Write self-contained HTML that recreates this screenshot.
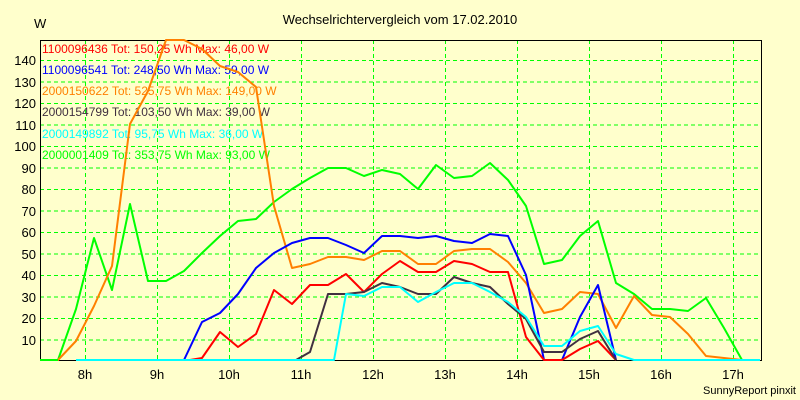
<!DOCTYPE html><html><head><meta charset="utf-8"><style>body{margin:0;background:#ffffcc}svg{display:block}</style></head><body>
<svg width="800" height="400" xmlns="http://www.w3.org/2000/svg" font-family="Liberation Sans, sans-serif">
<rect width="800" height="400" fill="#ffffcc"/>
<text x="400" y="24" font-size="13" text-anchor="middle">Wechselrichtervergleich vom 17.02.2010</text>
<text x="34" y="28" font-size="13">W</text>
<g stroke="#00ff00" stroke-dasharray="4,3" stroke-width="1">
<line x1="40" x2="762" y1="60.5" y2="60.5"/><line x1="40" x2="762" y1="82" y2="82"/><line x1="40" x2="762" y1="103.5" y2="103.5"/><line x1="40" x2="762" y1="125" y2="125"/><line x1="40" x2="762" y1="146.5" y2="146.5"/><line x1="40" x2="762" y1="168" y2="168"/><line x1="40" x2="762" y1="189.5" y2="189.5"/><line x1="40" x2="762" y1="211" y2="211"/><line x1="40" x2="762" y1="232.5" y2="232.5"/><line x1="40" x2="762" y1="254" y2="254"/><line x1="40" x2="762" y1="275.5" y2="275.5"/><line x1="40" x2="762" y1="297" y2="297"/><line x1="40" x2="762" y1="318.5" y2="318.5"/><line x1="40" x2="762" y1="340" y2="340"/>
<line y1="40" y2="360" x1="85.5" x2="85.5"/><line y1="40" y2="360" x1="157.5" x2="157.5"/><line y1="40" y2="360" x1="229.5" x2="229.5"/><line y1="40" y2="360" x1="301.5" x2="301.5"/><line y1="40" y2="360" x1="373.5" x2="373.5"/><line y1="40" y2="360" x1="445.5" x2="445.5"/><line y1="40" y2="360" x1="517.5" x2="517.5"/><line y1="40" y2="360" x1="589.5" x2="589.5"/><line y1="40" y2="360" x1="661.5" x2="661.5"/><line y1="40" y2="360" x1="733.5" x2="733.5"/>
</g>
<rect x="40.5" y="40.5" width="721" height="320" fill="none" stroke="#000" stroke-width="1"/>
<g font-size="13" text-anchor="end">
<text x="36" y="65">140</text><text x="36" y="87">130</text><text x="36" y="108">120</text><text x="36" y="130">110</text><text x="36" y="151">100</text><text x="36" y="173">90</text><text x="36" y="194">80</text><text x="36" y="216">70</text><text x="36" y="237">60</text><text x="36" y="259">50</text><text x="36" y="280">40</text><text x="36" y="302">30</text><text x="36" y="323">20</text><text x="36" y="345">10</text>
</g>
<g font-size="13" text-anchor="middle">
<text x="85" y="379">8h</text><text x="157" y="379">9h</text><text x="229" y="379">10h</text><text x="301" y="379">11h</text><text x="373" y="379">12h</text><text x="445" y="379">13h</text><text x="517" y="379">14h</text><text x="589" y="379">15h</text><text x="661" y="379">16h</text><text x="733" y="379">17h</text>
</g>
<text x="796" y="394" font-size="11" text-anchor="end">SunnyReport pinxit</text>
<g font-size="12">
<text x="42" y="53" fill="#ff0000">1100096436 Tot: 150,25 Wh Max: 46,00 W</text>
<text x="42" y="74" fill="#0000ff">1100096541 Tot: 248,50 Wh Max: 59,00 W</text>
<text x="42" y="95" fill="#ff8000">2000150622 Tot: 525,75 Wh Max: 149,00 W</text>
<text x="42" y="116" fill="#403040">2000154799 Tot: 103,50 Wh Max: 39,00 W</text>
<text x="42" y="138" fill="#00ffff">2000149892 Tot: 95,75 Wh Max: 36,00 W</text>
<text x="42" y="159" fill="#00ff00">2000001409 Tot: 353,75 Wh Max: 93,00 W</text>
</g>
<g fill="none" stroke-width="2" stroke-linejoin="round">
<polyline stroke="#00ff00" points="40,360 58,360 76,309 94,238 112,290 130,204 148,281 166,281 184,271 202,253 220,236 238,221 256,219 274,202 292,189 310,178 328,168 346,168 364,176 382,170 400,174 418,189 436,165 454,178 472,176 490,163 508,180 526,206 544,264 562,260 580,236 598,221 616,283 634,294 652,309 670,309 688,311 706,298 724,328 742,360 760,360"/>
<polyline stroke="#ff8000" points="40,360 58,360 76,341 94,306 112,266 130,124 148,91 166,40 184,40 202,49 220,66 238,72 256,87 274,206 292,268 310,264 328,257 346,257 364,260 382,251 400,251 418,264 436,264 454,251 472,249 490,249 508,262 526,283 544,313 562,309 580,292 598,294 616,328 634,296 652,315 670,317 688,334 706,356 724,358 742,360 760,360"/>
<polyline stroke="#0000ff" points="184,360 202,322 220,313 238,294 256,268 274,253 292,243 310,238 328,238 346,245 364,253 382,236 400,236 418,238 436,236 454,241 472,243 490,234 508,236 526,275 544,360 562,360 580,317 598,285 616,360"/>
<polyline stroke="#ff0000" points="190,360 202,358 220,332 238,347 256,334 274,290 292,304 310,285 328,285 346,274 364,292 382,274 400,261 418,272 436,272 454,261 472,264 490,272 508,272 526,337 544,360 562,360 580,349 598,341 616,360"/>
<polyline stroke="#403040" points="296,360 310,352 328,294 346,294 364,292 382,283 400,287 418,294 436,294 454,277 472,283 490,287 508,304 526,319 544,352 562,352 580,339 598,331 616,360"/>
<polyline stroke="#00ffff" points="76,360 334,360 346,294 364,296 382,287 400,287 418,302 436,292 454,283 472,283 490,292 508,302 526,317 544,346 562,346 580,331 598,326 616,354 634,360 760,360"/>
<polyline stroke="#00ff00" points="40,360 58,360"/>
</g>
</svg></body></html>
